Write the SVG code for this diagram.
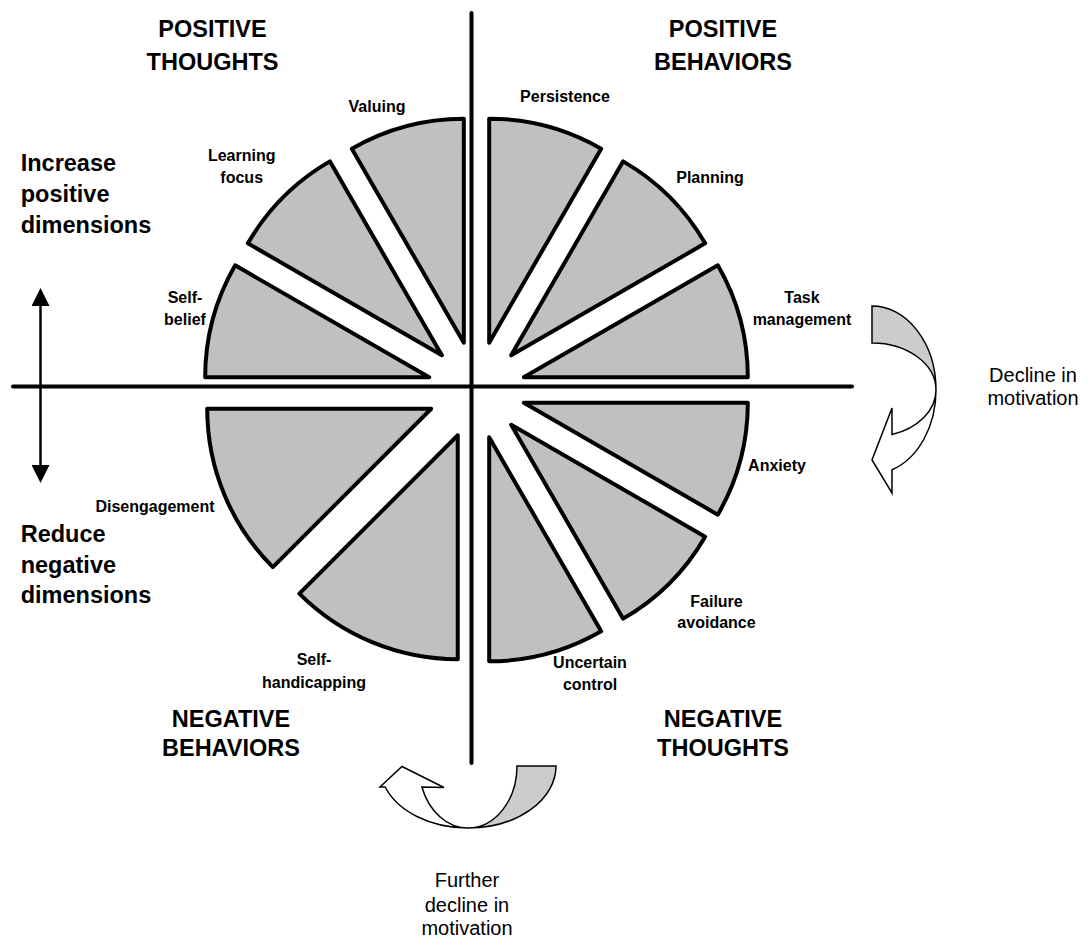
<svg xmlns="http://www.w3.org/2000/svg" width="1092" height="937" viewBox="0 0 1092 937">
<style>
  text { font-family: "Liberation Sans", Arial, sans-serif; fill: #000; }
  .title { font-size: 23.5px; font-weight: bold; text-anchor: middle; }
  .side { font-size: 23.5px; font-weight: bold; }
  .lbl { font-size: 16px; font-weight: bold; text-anchor: middle; }
  .note { font-size: 20px; text-anchor: middle; }
  .wedge { fill: #c0c0c0; stroke: #000; stroke-width: 4; stroke-linejoin: round; }
  .axis { stroke: #000; stroke-width: 4; stroke-linecap: round; fill: none; }
  .carrow { stroke: #000; stroke-width: 1.5; stroke-linejoin: miter; }
</style>
<defs>
  <marker id="head" viewBox="0 0 18 18" refX="6" refY="9" markerWidth="18" markerHeight="18" markerUnits="userSpaceOnUse" orient="auto-start-reverse">
    <path d="M0,0 L18,9 L0,18 Z" fill="#000"/>
  </marker>
</defs>
<rect width="1092" height="937" fill="#fff"/>

<g id="wedges">
  <path id="persistence" class="wedge" d="M489.18,342.67 L489.18,118.67 A224,224 0 0 1 601.18,148.68 Z"/>
  <path id="planning" class="wedge" d="M511.15,355.35 L623.15,161.36 A224,224 0 0 1 705.14,243.35 Z"/>
  <path id="task-management" class="wedge" d="M523.83,377.32 L717.82,265.32 A224,224 0 0 1 747.83,377.32 Z"/>
  <path id="anxiety" class="wedge" d="M523.83,402.68 L747.83,402.68 A224,224 0 0 1 717.82,514.68 Z"/>
  <path id="failure-avoidance" class="wedge" d="M511.15,424.65 L705.14,536.65 A224,224 0 0 1 623.15,618.64 Z"/>
  <path id="uncertain-control" class="wedge" d="M489.18,437.33 L601.18,631.32 A224,224 0 0 1 489.18,661.33 Z"/>
  <path id="self-handicapping" class="wedge" d="M457.75,435.27 L457.75,659.27 A224,224 0 0 1 299.36,593.66 Z"/>
  <path id="disengagement" class="wedge" d="M431.23,408.75 L272.84,567.14 A224,224 0 0 1 207.23,408.75 Z"/>
  <path id="self-belief" class="wedge" d="M429.17,377.32 L205.17,377.32 A224,224 0 0 1 235.18,265.32 Z"/>
  <path id="learning-focus" class="wedge" d="M441.85,355.35 L247.86,243.35 A224,224 0 0 1 329.85,161.36 Z"/>
  <path id="valuing" class="wedge" d="M463.82,342.67 L351.82,148.68 A224,224 0 0 1 463.82,118.67 Z"/>
</g>

<g id="connectors">
  <line class="axis" x1="471.5" y1="13" x2="471.5" y2="763"/>
  <line class="axis" x1="13" y1="386.5" x2="852" y2="386.5"/>
  <line x1="40.5" y1="300" x2="40.5" y2="471" stroke="#000" stroke-width="2.5" marker-start="url(#head)" marker-end="url(#head)"/>
  <g id="decline-arrow">
    <path class="carrow" fill="#fff" d="M936,390 A64,84 0 0 1 892,469.8 L892,493 L872,460 L892,408 L892,434.6 A64,47 0 0 0 936,390 Z"/>
    <path class="carrow" fill="#cccccc" d="M872,306 A64,84 0 0 1 936,390 A64,47 0 0 0 872,343 Z"/>
  </g>
  <g id="further-decline-arrow">
    <path class="carrow" fill="#fff" d="M468,828 A88,62 0 0 1 385.2,787 L380,787 L402,766.5 L444,787.5 L421.9,787 A49,62 0 0 0 468,828 Z"/>
    <path class="carrow" fill="#cccccc" d="M556,766 A88,62 0 0 1 468,828 A49,62 0 0 0 517,766 Z"/>
  </g>
</g>

<g id="titles">
  <text class="title" x="212.5" y="37.3">POSITIVE</text>
  <text class="title" x="212.5" y="70">THOUGHTS</text>
  <text class="title" x="723" y="37.3">POSITIVE</text>
  <text class="title" x="723" y="70">BEHAVIORS</text>
  <text class="title" x="231" y="726.7">NEGATIVE</text>
  <text class="title" x="231" y="755.5">BEHAVIORS</text>
  <text class="title" x="723" y="726.7">NEGATIVE</text>
  <text class="title" x="723" y="756">THOUGHTS</text>
</g>

<g id="side-labels">
  <text class="side" x="20.7" y="170.7">Increase</text>
  <text class="side" x="20.7" y="202">positive</text>
  <text class="side" x="20.7" y="233">dimensions</text>
  <text class="side" x="20.7" y="541.7">Reduce</text>
  <text class="side" x="20.7" y="572.7">negative</text>
  <text class="side" x="20.7" y="603">dimensions</text>
</g>

<g id="wedge-labels">
  <text class="lbl" x="377" y="111.5">Valuing</text>
  <text class="lbl" x="241.7" y="160.7">Learning</text>
  <text class="lbl" x="241.7" y="182.7">focus</text>
  <text class="lbl" x="565" y="101.7">Persistence</text>
  <text class="lbl" x="710" y="183.3">Planning</text>
  <text class="lbl" x="802" y="303">Task</text>
  <text class="lbl" x="802" y="325">management</text>
  <text class="lbl" x="185" y="303">Self-</text>
  <text class="lbl" x="185" y="325">belief</text>
  <text class="lbl" x="777" y="470.7">Anxiety</text>
  <text class="lbl" x="716.5" y="606.7">Failure</text>
  <text class="lbl" x="716.5" y="628.3">avoidance</text>
  <text class="lbl" x="590" y="668.3">Uncertain</text>
  <text class="lbl" x="590" y="690">control</text>
  <text class="lbl" x="155" y="511.7">Disengagement</text>
  <text class="lbl" x="314" y="665">Self-</text>
  <text class="lbl" x="314" y="688">handicapping</text>
</g>

<g id="notes">
  <text class="note" x="1033" y="382">Decline in</text>
  <text class="note" x="1033" y="404.5">motivation</text>
  <text class="note" x="467" y="886.7">Further</text>
  <text class="note" x="467" y="911.7">decline in</text>
  <text class="note" x="467" y="935">motivation</text>
</g>
</svg>
